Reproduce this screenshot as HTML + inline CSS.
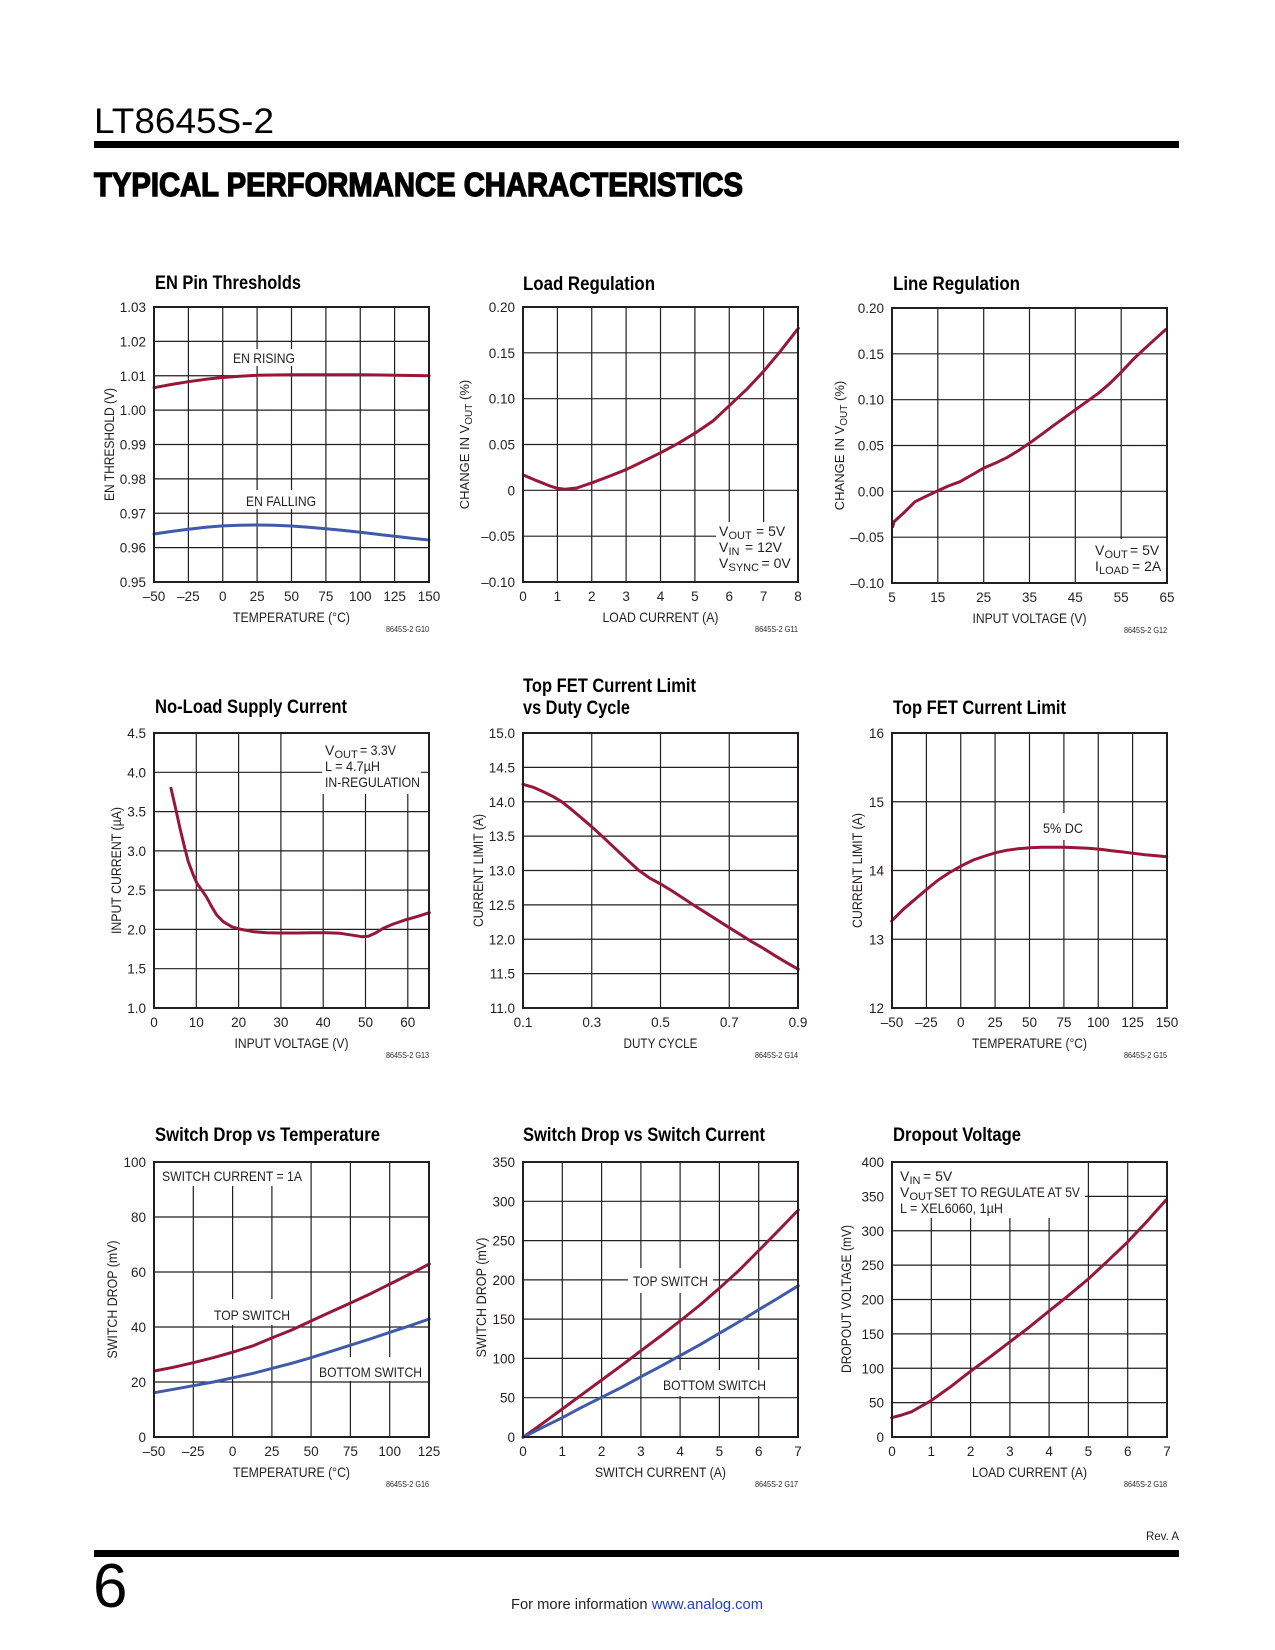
<!DOCTYPE html>
<html><head><meta charset="utf-8"><style>
html,body{margin:0;padding:0;background:#fff;}
svg{display:block;}
text{font-family:"Liberation Sans",Arial,sans-serif;fill:#231f20;}
.tk{font-size:13.5px;}
.ax{font-size:14px;}
.ti{font-size:19.5px;font-weight:bold;fill:#000;}
.an{font-size:14px;}
.sb{font-size:11px;}
.cd{font-size:8.5px;}
.grid{stroke:#231f20;stroke-width:1.2;fill:none;}
.frame{stroke:#231f20;stroke-width:2;fill:none;}
.r{stroke:#971739;stroke-width:3;fill:none;stroke-linejoin:round;stroke-linecap:round;}
.b{stroke:#3f5aa8;stroke-width:3;fill:none;stroke-linejoin:round;stroke-linecap:round;}
.wb{fill:#fff;stroke:none;}
</style></head><body>
<svg width="1275" height="1650" viewBox="0 0 1275 1650" xmlns="http://www.w3.org/2000/svg">
<!-- Header -->
<text x="94" y="133" textLength="180" lengthAdjust="spacingAndGlyphs" style="font-size:35px;fill:#000">LT8645S-2</text>
<rect x="94" y="141" width="1085" height="7" fill="#000"/>
<text x="94" y="196" textLength="649" lengthAdjust="spacingAndGlyphs" style="font-size:33px;font-weight:bold;fill:#000;stroke:#000;stroke-width:1.4">TYPICAL PERFORMANCE CHARACTERISTICS</text>

<!-- ===== Chart 1: EN Pin Thresholds ===== -->
<text class="ti" x="155" y="289" textLength="146" lengthAdjust="spacingAndGlyphs">EN Pin Thresholds</text>
<path class="grid" d="M188.4 307V582M222.75 307V582M257.1 307V582M291.5 307V582M325.9 307V582M360.25 307V582M394.6 307V582M154 341.4H429M154 375.75H429M154 410.1H429M154 444.5H429M154 478.9H429M154 513.25H429M154 547.6H429"/>
<rect class="wb" x="228" y="349" width="72" height="17"/>
<rect class="wb" x="241" y="490" width="80" height="19"/>
<polyline class="r" points="154,387.7 171.2,384.5 188.4,381.7 205.6,379.3 222.75,377.5 240,376.2 257.1,375.3 291.5,374.8 325.9,374.7 360.25,374.8 394.6,375.2 429,375.8"/>
<polyline class="b" points="154,534 171,531.5 188.4,529.3 205.6,527.3 222.75,525.9 240,525.2 257.1,525 274.3,525.3 291.5,526 308.7,527.2 325.9,528.7 343,530.4 360.25,532.3 377.4,534.3 394.6,536.3 411.8,538.2 429,540"/>
<rect class="frame" x="154" y="307" width="275" height="275"/>
<text class="an" x="233" y="363" textLength="62" lengthAdjust="spacingAndGlyphs">EN RISING</text>
<text class="an" x="246" y="506" textLength="70" lengthAdjust="spacingAndGlyphs">EN FALLING</text>
<g class="tk" text-anchor="end">
<text x="146" y="312">1.03</text><text x="146" y="346.4">1.02</text><text x="146" y="380.8">1.01</text><text x="146" y="415.1">1.00</text><text x="146" y="449.5">0.99</text><text x="146" y="483.9">0.98</text><text x="146" y="518.3">0.97</text><text x="146" y="552.6">0.96</text><text x="146" y="587">0.95</text>
</g>
<g class="tk" text-anchor="middle">
<text x="154" y="601">–50</text><text x="188.4" y="601">–25</text><text x="222.75" y="601">0</text><text x="257.1" y="601">25</text><text x="291.5" y="601">50</text><text x="325.9" y="601">75</text><text x="360.25" y="601">100</text><text x="394.6" y="601">125</text><text x="429" y="601">150</text>
</g>
<text class="ax" x="291.5" y="622" text-anchor="middle" textLength="117" lengthAdjust="spacingAndGlyphs">TEMPERATURE (°C)</text>
<text class="ax" transform="translate(114,444.5) rotate(-90)" x="0" y="0" text-anchor="middle" textLength="113" lengthAdjust="spacingAndGlyphs">EN THRESHOLD (V)</text>
<text class="cd" x="429" y="632" text-anchor="end" textLength="43" lengthAdjust="spacingAndGlyphs">8645S-2 G10</text>

<!-- ===== Chart 2: Load Regulation ===== -->
<text class="ti" x="523" y="290" textLength="132" lengthAdjust="spacingAndGlyphs">Load Regulation</text>
<path class="grid" d="M557.4 307V582M591.75 307V582M626.1 307V582M660.5 307V582M694.9 307V582M729.25 307V582M763.6 307V582M523 352.8H798M523 398.7H798M523 444.5H798M523 490.3H798M523 536.2H798"/>
<rect class="wb" x="716" y="522" width="81" height="59"/>
<polyline class="r" points="523.3,475 536.7,480.7 550,486 557.3,488.3 565,489.3 576.7,488 592.3,482.7 610,476 626.7,469.3 643.3,461.3 660.7,452.7 678.3,443.3 695.7,432.7 713.3,420.7 729.3,405.7 746.7,389.3 763.3,371.7 780,351.7 798.3,328.3"/>
<rect class="frame" x="523" y="307" width="275" height="275"/>
<text class="an" x="719" y="536">V</text><text class="sb" x="728.5" y="539">OUT</text><text class="an" x="756" y="536">= 5V</text>
<text class="an" x="719" y="552">V</text><text class="sb" x="728.5" y="555">IN</text><text class="an" x="745" y="552">= 12V</text>
<text class="an" x="719" y="568">V</text><text class="sb" x="728.5" y="571">SYNC</text><text class="an" x="761.5" y="568">= 0V</text>
<g class="tk" text-anchor="end">
<text x="515" y="312">0.20</text><text x="515" y="357.8">0.15</text><text x="515" y="403.7">0.10</text><text x="515" y="449.5">0.05</text><text x="515" y="495.3">0</text><text x="515" y="541.2">–0.05</text><text x="515" y="587">–0.10</text>
</g>
<g class="tk" text-anchor="middle">
<text x="523" y="601">0</text><text x="557.4" y="601">1</text><text x="591.75" y="601">2</text><text x="626.1" y="601">3</text><text x="660.5" y="601">4</text><text x="694.9" y="601">5</text><text x="729.25" y="601">6</text><text x="763.6" y="601">7</text><text x="798" y="601">8</text>
</g>
<text class="ax" x="660.5" y="622" text-anchor="middle" textLength="116" lengthAdjust="spacingAndGlyphs">LOAD CURRENT (A)</text>
<text transform="translate(469,444.5) rotate(-90)" text-anchor="middle" style="font-size:13px">CHANGE IN V<tspan dy="3" style="font-size:10px">OUT</tspan><tspan dy="-3"> (%)</tspan></text>
<text class="cd" x="798" y="632" text-anchor="end" textLength="43" lengthAdjust="spacingAndGlyphs">8645S-2 G11</text>

<!-- ===== Chart 3: Line Regulation ===== -->
<text class="ti" x="893" y="290" textLength="127" lengthAdjust="spacingAndGlyphs">Line Regulation</text>
<path class="grid" d="M937.8 308V583M983.7 308V583M1029.5 308V583M1075.3 308V583M1121.2 308V583M892 353.8H1167M892 399.7H1167M892 445.5H1167M892 491.3H1167M892 537.2H1167"/>
<rect class="wb" x="1090" y="539" width="76" height="43"/>
<polyline class="r" points="892.7,526.7 894,521.7 903.3,513.3 915,501.7 926.7,496 937.3,491 948.3,486 960,481.7 971.7,475 983.3,468.3 995,463.3 1006.7,457.7 1018.3,450.7 1029.3,443.3 1041.7,434.3 1053.3,425.7 1065,417.3 1076,409.3 1086.7,401.7 1098.3,393.3 1110,383.3 1121.7,371.7 1133.3,359.3 1145,348.3 1156,338.3 1166,329.3"/>
<rect class="frame" x="892" y="308" width="275" height="275"/>
<text class="an" x="1095" y="555">V</text><text class="sb" x="1104.5" y="558">OUT</text><text class="an" x="1130" y="555">= 5V</text>
<text class="an" x="1095" y="571">I</text><text class="sb" x="1099" y="574">LOAD</text><text class="an" x="1132" y="571">= 2A</text>
<g class="tk" text-anchor="end">
<text x="884" y="313">0.20</text><text x="884" y="358.8">0.15</text><text x="884" y="404.7">0.10</text><text x="884" y="450.5">0.05</text><text x="884" y="496.3">0.00</text><text x="884" y="542.2">–0.05</text><text x="884" y="588">–0.10</text>
</g>
<g class="tk" text-anchor="middle">
<text x="892" y="602">5</text><text x="937.8" y="602">15</text><text x="983.7" y="602">25</text><text x="1029.5" y="602">35</text><text x="1075.3" y="602">45</text><text x="1121.2" y="602">55</text><text x="1167" y="602">65</text>
</g>
<text class="ax" x="1029.5" y="623" text-anchor="middle" textLength="114" lengthAdjust="spacingAndGlyphs">INPUT VOLTAGE (V)</text>
<text transform="translate(844,445.5) rotate(-90)" text-anchor="middle" style="font-size:13px">CHANGE IN V<tspan dy="3" style="font-size:10px">OUT</tspan><tspan dy="-3"> (%)</tspan></text>
<text class="cd" x="1167" y="633" text-anchor="end" textLength="43" lengthAdjust="spacingAndGlyphs">8645S-2 G12</text>

<!-- ===== Chart 4: No-Load Supply Current ===== -->
<text class="ti" x="155" y="713" textLength="192" lengthAdjust="spacingAndGlyphs">No-Load Supply Current</text>
<path class="grid" d="M196.3 733V1008M238.6 733V1008M280.9 733V1008M323.2 733V1008M365.5 733V1008M407.8 733V1008M154 772.3H429M154 811.6H429M154 850.9H429M154 890.1H429M154 929.4H429M154 968.7H429"/>
<rect class="wb" x="322" y="734" width="99" height="60"/>
<polyline class="r" points="171,788.3 173.3,798.3 176.7,813.3 180,828.3 184,845 188.3,861.7 193.3,875 197.3,884 201.7,890 206.7,897.3 211.7,906.7 216.7,915 223.3,921.7 231.7,926.7 239.3,929 253.3,931.7 266.7,932.7 280,933 296.7,933 313.3,932.7 326.7,932.7 340,933.3 353.3,935.3 361.7,936.7 368.3,936.3 375,933.3 383.3,928.3 393.3,924 405,920 416.7,916.7 429.3,912.7"/>
<rect class="frame" x="154" y="733" width="275" height="275"/>
<text class="an" x="325" y="755">V</text><text class="sb" x="334.5" y="758">OUT</text><text class="an" x="360" y="755" textLength="36" lengthAdjust="spacingAndGlyphs">= 3.3V</text>
<text class="an" x="325" y="771" textLength="55" lengthAdjust="spacingAndGlyphs">L = 4.7µH</text>
<text class="an" x="325" y="787" textLength="95" lengthAdjust="spacingAndGlyphs">IN-REGULATION</text>
<g class="tk" text-anchor="end">
<text x="146" y="738">4.5</text><text x="146" y="777.3">4.0</text><text x="146" y="816.6">3.5</text><text x="146" y="855.9">3.0</text><text x="146" y="895.1">2.5</text><text x="146" y="934.4">2.0</text><text x="146" y="973.7">1.5</text><text x="146" y="1013">1.0</text>
</g>
<g class="tk" text-anchor="middle">
<text x="154" y="1027">0</text><text x="196.3" y="1027">10</text><text x="238.6" y="1027">20</text><text x="280.9" y="1027">30</text><text x="323.2" y="1027">40</text><text x="365.5" y="1027">50</text><text x="407.8" y="1027">60</text>
</g>
<text class="ax" x="291.5" y="1048" text-anchor="middle" textLength="114" lengthAdjust="spacingAndGlyphs">INPUT VOLTAGE (V)</text>
<text class="ax" transform="translate(121,870.5) rotate(-90)" text-anchor="middle" textLength="127" lengthAdjust="spacingAndGlyphs">INPUT CURRENT (µA)</text>
<text class="cd" x="429" y="1058" text-anchor="end" textLength="43" lengthAdjust="spacingAndGlyphs">8645S-2 G13</text>

<!-- ===== Chart 5: Top FET Current Limit vs Duty Cycle ===== -->
<text class="ti" x="523" y="692" textLength="173" lengthAdjust="spacingAndGlyphs">Top FET Current Limit</text>
<text class="ti" x="523" y="714" textLength="107" lengthAdjust="spacingAndGlyphs">vs Duty Cycle</text>
<path class="grid" d="M591.75 733V1008M660.5 733V1008M729.25 733V1008M523 767.4H798M523 801.75H798M523 836.1H798M523 870.5H798M523 904.9H798M523 939.25H798M523 973.6H798"/>
<polyline class="r" points="523,784.3 533.3,787.3 543.3,791.7 553.3,796.7 561.7,801.7 570,808.3 580,816.7 591.7,826.7 603.3,837.3 615,848.3 626.7,859.3 638.3,870 650,878.3 660.7,884 673.3,891.7 683.3,898.3 695,906 706.7,913.3 718.3,920.7 729.3,927.7 740,934.3 751.7,941.7 763.3,948.3 775,955.7 786.7,962.7 798.3,969.3"/>
<rect class="frame" x="523" y="733" width="275" height="275"/>
<g class="tk" text-anchor="end">
<text x="515" y="738">15.0</text><text x="515" y="772.4">14.5</text><text x="515" y="806.75">14.0</text><text x="515" y="841.1">13.5</text><text x="515" y="875.5">13.0</text><text x="515" y="909.9">12.5</text><text x="515" y="944.25">12.0</text><text x="515" y="978.6">11.5</text><text x="515" y="1013">11.0</text>
</g>
<g class="tk" text-anchor="middle">
<text x="523" y="1027">0.1</text><text x="591.75" y="1027">0.3</text><text x="660.5" y="1027">0.5</text><text x="729.25" y="1027">0.7</text><text x="798" y="1027">0.9</text>
</g>
<text class="ax" x="660.5" y="1048" text-anchor="middle" textLength="74" lengthAdjust="spacingAndGlyphs">DUTY CYCLE</text>
<text class="ax" transform="translate(483,870.5) rotate(-90)" text-anchor="middle" textLength="113" lengthAdjust="spacingAndGlyphs">CURRENT LIMIT (A)</text>
<text class="cd" x="798" y="1058" text-anchor="end" textLength="43" lengthAdjust="spacingAndGlyphs">8645S-2 G14</text>

<!-- ===== Chart 6: Top FET Current Limit ===== -->
<text class="ti" x="893" y="714" textLength="173" lengthAdjust="spacingAndGlyphs">Top FET Current Limit</text>
<path class="grid" d="M926.4 733V1008M960.75 733V1008M995.1 733V1008M1029.5 733V1008M1063.9 733V1008M1098.25 733V1008M1132.6 733V1008M892 801.75H1167M892 870.5H1167M892 939.25H1167"/>
<rect class="wb" x="1039" y="813" width="48" height="27"/>
<polyline class="r" points="891.7,921 903.3,909.3 915,899.3 926.7,889.3 938.3,880 950,872.3 961.7,865.7 973.3,860 985,856 995.7,852.7 1006.7,850.3 1018.3,848.7 1030,847.7 1041.7,847.3 1053.3,847.3 1065,847.3 1076.7,847.7 1088.3,848.3 1100,849.3 1111.7,850.7 1123.3,852 1133.3,853.3 1145,854.7 1156.7,855.7 1166.7,856.7"/>
<rect class="frame" x="892" y="733" width="275" height="275"/>
<text class="an" x="1043" y="833" textLength="40" lengthAdjust="spacingAndGlyphs">5% DC</text>
<g class="tk" text-anchor="end">
<text x="884" y="738">16</text><text x="884" y="806.75">15</text><text x="884" y="875.5">14</text><text x="884" y="944.25">13</text><text x="884" y="1013">12</text>
</g>
<g class="tk" text-anchor="middle">
<text x="892" y="1027">–50</text><text x="926.4" y="1027">–25</text><text x="960.75" y="1027">0</text><text x="995.1" y="1027">25</text><text x="1029.5" y="1027">50</text><text x="1063.9" y="1027">75</text><text x="1098.25" y="1027">100</text><text x="1132.6" y="1027">125</text><text x="1167" y="1027">150</text>
</g>
<text class="ax" x="1029.5" y="1048" text-anchor="middle" textLength="115" lengthAdjust="spacingAndGlyphs">TEMPERATURE (°C)</text>
<text class="ax" transform="translate(862,870.5) rotate(-90)" text-anchor="middle" textLength="115" lengthAdjust="spacingAndGlyphs">CURRENT LIMIT (A)</text>
<text class="cd" x="1167" y="1058" text-anchor="end" textLength="43" lengthAdjust="spacingAndGlyphs">8645S-2 G15</text>

<!-- ===== Chart 7: Switch Drop vs Temperature ===== -->
<text class="ti" x="155" y="1141" textLength="225" lengthAdjust="spacingAndGlyphs">Switch Drop vs Temperature</text>
<path class="grid" d="M193.3 1162V1437M232.6 1162V1437M271.9 1162V1437M311.1 1162V1437M350.4 1162V1437M389.7 1162V1437M154 1217H429M154 1272H429M154 1327H429M154 1382H429"/>
<rect class="wb" x="155" y="1163" width="153" height="23"/>
<rect class="wb" x="209" y="1299" width="86" height="26"/>
<rect class="wb" x="313" y="1357" width="115" height="24"/>
<polyline class="r" points="154.3,1371 173.3,1367.3 193.3,1362.7 213.3,1357.7 233.3,1352 253.3,1345.7 272.3,1337.7 291.7,1330 311,1321 330,1312.3 350,1303.3 370,1294 390,1284 410,1274 429.3,1264"/>
<polyline class="b" points="154.3,1392.7 173.3,1389.3 193.3,1385.7 213.3,1382 233.3,1377.7 253.3,1373.3 272.3,1368.3 291.7,1363.3 311,1357.7 330,1351.7 350,1345.3 370,1339 390,1332.3 410,1325.7 429.3,1319"/>
<rect class="frame" x="154" y="1162" width="275" height="275"/>
<text class="an" x="162" y="1181" textLength="140" lengthAdjust="spacingAndGlyphs">SWITCH CURRENT = 1A</text>
<text class="an" x="214" y="1320" textLength="76" lengthAdjust="spacingAndGlyphs">TOP SWITCH</text>
<text class="an" x="319" y="1377" textLength="103" lengthAdjust="spacingAndGlyphs">BOTTOM SWITCH</text>
<g class="tk" text-anchor="end">
<text x="146" y="1167">100</text><text x="146" y="1222">80</text><text x="146" y="1277">60</text><text x="146" y="1332">40</text><text x="146" y="1387">20</text><text x="146" y="1442">0</text>
</g>
<g class="tk" text-anchor="middle">
<text x="154" y="1456">–50</text><text x="193.3" y="1456">–25</text><text x="232.6" y="1456">0</text><text x="271.9" y="1456">25</text><text x="311.1" y="1456">50</text><text x="350.4" y="1456">75</text><text x="389.7" y="1456">100</text><text x="429" y="1456">125</text>
</g>
<text class="ax" x="291.5" y="1477" text-anchor="middle" textLength="117" lengthAdjust="spacingAndGlyphs">TEMPERATURE (°C)</text>
<text class="ax" transform="translate(117,1299.5) rotate(-90)" text-anchor="middle" textLength="118" lengthAdjust="spacingAndGlyphs">SWITCH DROP (mV)</text>
<text class="cd" x="429" y="1487" text-anchor="end" textLength="43" lengthAdjust="spacingAndGlyphs">8645S-2 G16</text>

<!-- ===== Chart 8: Switch Drop vs Switch Current ===== -->
<text class="ti" x="523" y="1141" textLength="242" lengthAdjust="spacingAndGlyphs">Switch Drop vs Switch Current</text>
<path class="grid" d="M562.3 1162V1437M601.6 1162V1437M640.9 1162V1437M680.1 1162V1437M719.4 1162V1437M758.7 1162V1437M523 1201.3H798M523 1240.6H798M523 1279.9H798M523 1319.1H798M523 1358.4H798M523 1397.7H798"/>
<rect class="wb" x="628" y="1268" width="85" height="25"/>
<rect class="wb" x="655" y="1370" width="117" height="26"/>
<polyline class="r" points="523,1437.3 542.7,1423.3 562.3,1409 581.7,1394.7 601.7,1380 621.7,1365.3 641,1350.7 660.7,1336 680,1321 700,1305 719.3,1288.3 738.7,1270.7 758.3,1251 778.3,1230.7 798.3,1210"/>
<polyline class="b" points="523,1437.3 542.7,1427.3 562.3,1417.7 581.7,1407.3 601.7,1397.3 621.7,1387.3 641,1376.7 660.7,1366.3 680,1355.7 700,1344.7 719.3,1333.3 738.7,1322 758.3,1310 778.3,1298 798.3,1285.7"/>
<rect class="frame" x="523" y="1162" width="275" height="275"/>
<text class="an" x="633" y="1286" textLength="75" lengthAdjust="spacingAndGlyphs">TOP SWITCH</text>
<text class="an" x="663" y="1390" textLength="103" lengthAdjust="spacingAndGlyphs">BOTTOM SWITCH</text>
<g class="tk" text-anchor="end">
<text x="515" y="1167">350</text><text x="515" y="1206.3">300</text><text x="515" y="1245.6">250</text><text x="515" y="1284.9">200</text><text x="515" y="1324.1">150</text><text x="515" y="1363.4">100</text><text x="515" y="1402.7">50</text><text x="515" y="1442">0</text>
</g>
<g class="tk" text-anchor="middle">
<text x="523" y="1456">0</text><text x="562.3" y="1456">1</text><text x="601.6" y="1456">2</text><text x="640.9" y="1456">3</text><text x="680.1" y="1456">4</text><text x="719.4" y="1456">5</text><text x="758.7" y="1456">6</text><text x="798" y="1456">7</text>
</g>
<text class="ax" x="660.5" y="1477" text-anchor="middle" textLength="131" lengthAdjust="spacingAndGlyphs">SWITCH CURRENT (A)</text>
<text class="ax" transform="translate(486,1297.5) rotate(-90)" text-anchor="middle" textLength="120" lengthAdjust="spacingAndGlyphs">SWITCH DROP (mV)</text>
<text class="cd" x="798" y="1487" text-anchor="end" textLength="43" lengthAdjust="spacingAndGlyphs">8645S-2 G17</text>

<!-- ===== Chart 9: Dropout Voltage ===== -->
<text class="ti" x="893" y="1141" textLength="128" lengthAdjust="spacingAndGlyphs">Dropout Voltage</text>
<path class="grid" d="M931.3 1162V1437M970.6 1162V1437M1009.9 1162V1437M1049.1 1162V1437M1088.4 1162V1437M1127.7 1162V1437M892 1196.4H1167M892 1230.75H1167M892 1265.1H1167M892 1299.5H1167M892 1333.9H1167M892 1368.25H1167M892 1402.6H1167"/>
<rect class="wb" x="893" y="1163" width="192" height="55"/>
<polyline class="r" points="891.7,1417.7 901.7,1415 911.7,1411.7 921.7,1406 931,1400.7 950.7,1386.7 970,1371.7 990,1357 1009.3,1342.3 1029,1327.3 1048.3,1311.7 1068.3,1295.7 1088.3,1279 1107.3,1261.3 1127.3,1242.3 1146.7,1221.7 1166,1200"/>
<rect class="frame" x="892" y="1162" width="275" height="275"/>
<text class="an" x="900" y="1181">V</text><text class="sb" x="909.5" y="1184">IN</text><text class="an" x="923" y="1181">= 5V</text>
<text class="an" x="900" y="1197">V</text><text class="sb" x="909.5" y="1200">OUT</text><text class="an" x="934" y="1197" textLength="146" lengthAdjust="spacingAndGlyphs">SET TO REGULATE AT 5V</text>
<text class="an" x="900" y="1213" textLength="103" lengthAdjust="spacingAndGlyphs">L = XEL6060, 1µH</text>
<g class="tk" text-anchor="end">
<text x="884" y="1167">400</text><text x="884" y="1201.4">350</text><text x="884" y="1235.75">300</text><text x="884" y="1270.1">250</text><text x="884" y="1304.5">200</text><text x="884" y="1338.9">150</text><text x="884" y="1373.25">100</text><text x="884" y="1407.6">50</text><text x="884" y="1442">0</text>
</g>
<g class="tk" text-anchor="middle">
<text x="892" y="1456">0</text><text x="931.3" y="1456">1</text><text x="970.6" y="1456">2</text><text x="1009.9" y="1456">3</text><text x="1049.1" y="1456">4</text><text x="1088.4" y="1456">5</text><text x="1127.7" y="1456">6</text><text x="1167" y="1456">7</text>
</g>
<text class="ax" x="1029.5" y="1477" text-anchor="middle" textLength="115" lengthAdjust="spacingAndGlyphs">LOAD CURRENT (A)</text>
<text class="ax" transform="translate(851,1299) rotate(-90)" text-anchor="middle" textLength="148" lengthAdjust="spacingAndGlyphs">DROPOUT VOLTAGE (mV)</text>
<text class="cd" x="1167" y="1487" text-anchor="end" textLength="43" lengthAdjust="spacingAndGlyphs">8645S-2 G18</text>

<!-- Footer -->
<text x="1179" y="1540" text-anchor="end" style="font-size:11.5px">Rev. A</text>
<rect x="94" y="1550" width="1085" height="7" fill="#000"/>
<text x="93" y="1607" style="font-size:62px;fill:#000">6</text>
<text x="511" y="1609" style="font-size:14.5px" textLength="252" lengthAdjust="spacingAndGlyphs">For more information <tspan style="fill:#1f3fc4">www.analog.com</tspan></text>
</svg>
</body></html>
